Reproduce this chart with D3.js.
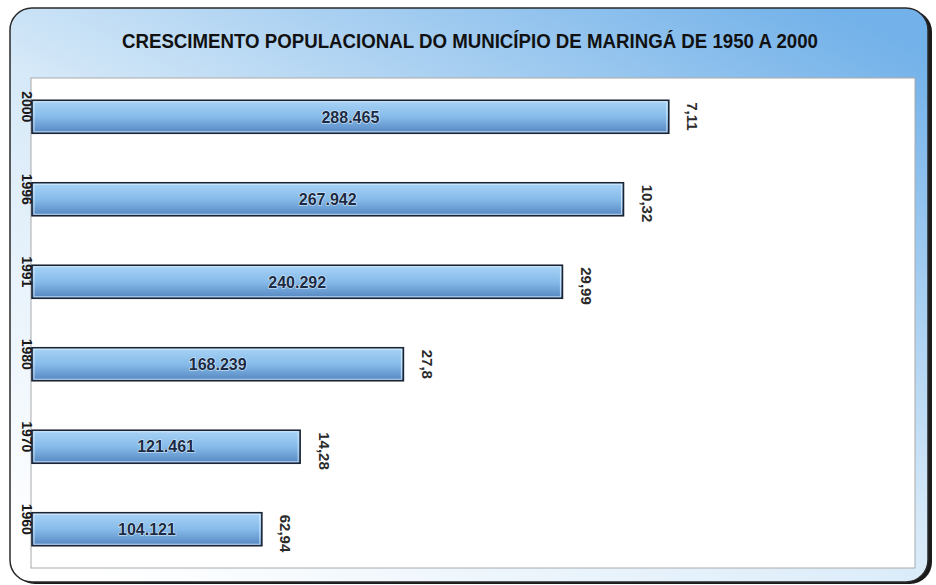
<!DOCTYPE html>
<html>
<head>
<meta charset="utf-8">
<script src="https://cdn.jsdelivr.net/npm/d3@7"></script>
<style>
  body { margin: 0; background: #fff; }
  svg { display: block; }
</style>
</head>
<body>
<figure id="chart" style="margin:0"></figure>
<script>
// data
const years = ["2000", "1996", "1991", "1980", "1970", "1960"];
const population = [288465, 267942, 240292, 168239, 121461, 104121];
const popLabels = ["288.465", "267.942", "240.292", "168.239", "121.461", "104.121"];
const growth = ["7,11", "10,32", "29,99", "27,8", "14,28", "62,94"];

const title = "CRESCIMENTO POPULACIONAL DO MUNICÍPIO DE MARINGÁ DE 1950 A 2000";

let dimensions = {
    width: 936,
    height: 585,
    plot: { left: 31, top: 78, right: 915, bottom: 568 }
};

const data = years.map((y, i) => ({
    year: y,
    pop: population[i],
    label: popLabels[i],
    growth: growth[i]
}));

const svg = d3.select("figure#chart")
    .append("svg")
    .attr("width", dimensions.width)
    .attr("height", dimensions.height);

const defs = svg.append("defs");

// frame background: white bottom-left to blue top-right
const frameGrad = defs.append("linearGradient")
    .attr("id", "frameGrad")
    .attr("x1", "0.1").attr("y1", "1")
    .attr("x2", "0.9").attr("y2", "0");
frameGrad.append("stop").attr("offset", "0%").attr("stop-color", "#ffffff");
frameGrad.append("stop").attr("offset", "50%").attr("stop-color", "#d6e9f8");
frameGrad.append("stop").attr("offset", "100%").attr("stop-color", "#72b1e9");

// bar fill: light top, darker bottom
const barGrad = defs.append("linearGradient")
    .attr("id", "barGrad")
    .attr("x1", "0").attr("y1", "0")
    .attr("x2", "0").attr("y2", "1");
barGrad.append("stop").attr("offset", "0%").attr("stop-color", "#a9d3f5");
barGrad.append("stop").attr("offset", "50%").attr("stop-color", "#86bbea");
barGrad.append("stop").attr("offset", "100%").attr("stop-color", "#5586c0");

// frame shadow + frame
svg.append("rect")
    .attr("x", 13).attr("y", 10)
    .attr("width", 919).attr("height", 574)
    .attr("rx", 22)
    .attr("fill", "#1a1a1a");

svg.append("rect")
    .attr("x", 10).attr("y", 8)
    .attr("width", 918).attr("height", 574)
    .attr("rx", 22)
    .attr("fill", "url(#frameGrad)")
    .attr("stroke", "#2a2a2a")
    .attr("stroke-width", 1.5);

svg.append("text")
    .attr("x", 470)
    .attr("y", 48)
    .attr("text-anchor", "middle")
    .attr("textLength", 696)
    .attr("lengthAdjust", "spacingAndGlyphs")
    .style("font-family", "'Liberation Sans Narrow', 'Arial Narrow', 'Liberation Sans', Arial, sans-serif")
    .style("font-weight", "bold")
    .style("font-size", "21px")
    .attr("fill", "#111")
    .text(title);

// plot area
const p = dimensions.plot;
svg.append("rect")
    .attr("x", p.left).attr("y", p.top)
    .attr("width", p.right - p.left).attr("height", p.bottom - p.top)
    .attr("fill", "#fff")
    .attr("stroke", "#a9a9a9")
    .attr("stroke-width", 1);

const xScale = d3.scaleLinear()
    .domain([0, 400000])
    .range([p.left + 1, p.right]);

const yScale = d3.scaleBand()
    .domain(years)
    .range([p.top, p.bottom])
    .paddingInner(0.6)
    .paddingOuter(0.27);

const font = "'Liberation Sans', Arial, sans-serif";

svg.selectAll("rect.bar")
    .data(data)
    .enter()
    .append("rect")
    .attr("class", "bar")
    .attr("x", xScale(0))
    .attr("y", d => yScale(d.year))
    .attr("width", d => xScale(d.pop) - xScale(0))
    .attr("height", yScale.bandwidth())
    .attr("fill", "url(#barGrad)")
    .attr("stroke", "#1c2433")
    .attr("stroke-width", 1.6);

// inner highlight on bars
svg.selectAll("rect.hl")
    .data(data)
    .enter()
    .append("rect")
    .attr("class", "hl")
    .attr("x", xScale(0) + 2)
    .attr("y", d => yScale(d.year) + 1.5)
    .attr("width", d => xScale(d.pop) - xScale(0) - 4)
    .attr("height", yScale.bandwidth() - 3)
    .attr("fill", "none")
    .attr("stroke", "#e6f3ff")
    .attr("stroke-opacity", 0.7)
    .attr("stroke-width", 1);

// value labels inside bars
svg.selectAll("text.val")
    .data(data)
    .enter()
    .append("text")
    .attr("class", "val")
    .attr("x", d => (xScale(0) + xScale(d.pop)) / 2)
    .attr("y", d => yScale(d.year) + yScale.bandwidth() / 2)
    .attr("dy", "0.36em")
    .attr("text-anchor", "middle")
    .style("font-family", font)
    .style("font-weight", "bold")
    .style("font-size", "16px")
    .style("paint-order", "stroke")
    .attr("stroke", "#dceefc")
    .attr("stroke-width", 1.2)
    .attr("fill", "#1b2a44")
    .text(d => d.label);

// growth labels, rotated, right of the bar
svg.selectAll("text.growth")
    .data(data)
    .enter()
    .append("text")
    .attr("class", "growth")
    .attr("transform", d => `translate(${xScale(d.pop) + 24}, ${yScale(d.year) + 2}) rotate(90)`)
    .attr("dy", "0.36em")
    .attr("text-anchor", "start")
    .style("font-family", font)
    .style("font-weight", "bold")
    .style("font-size", "15px")
    .attr("fill", "#2a2a2a")
    .text(d => d.growth);

// year labels, rotated, over the axis
svg.selectAll("text.year")
    .data(data)
    .enter()
    .append("text")
    .attr("class", "year")
    .attr("transform", d => `translate(27, ${yScale(d.year) + yScale.bandwidth() / 2 - 10}) rotate(90)`)
    .attr("dy", "0.36em")
    .attr("text-anchor", "middle")
    .style("font-family", font)
    .style("font-weight", "bold")
    .style("font-size", "14px")
    .attr("fill", "#1a1a1a")
    .text(d => d.year);
</script>
</body>
</html>
